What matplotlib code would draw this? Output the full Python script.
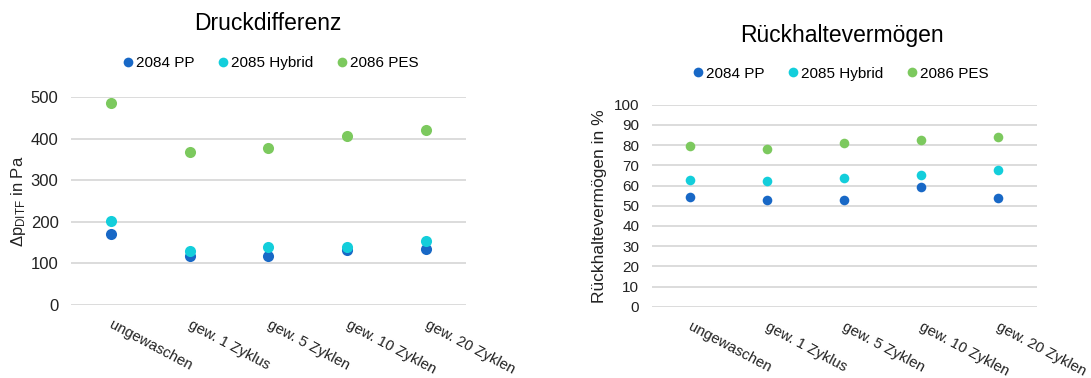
import matplotlib
matplotlib.use('Agg')
import matplotlib.pyplot as plt
from matplotlib.lines import Line2D
from matplotlib.transforms import ScaledTranslation

plt.rcParams['font.family'] = ['Liberation Sans', 'DejaVu Sans']
plt.rcParams['mathtext.fontset'] = 'custom'
plt.rcParams['mathtext.rm'] = 'Liberation Sans'
plt.rcParams['mathtext.it'] = 'Liberation Sans'

# Waschzustände
kategorien = ['ungewaschen', 'gew. 1 Zyklus', 'gew. 5 Zyklen', 'gew. 10 Zyklen', 'gew. 20 Zyklen']
serien = ['2084 PP', '2085 Hybrid', '2086 PES']
farben = ['#1868C6', '#13CEDB', '#7CC95E']

# Druckdifferenz in Pa
dp_pp = [172, 118, 118, 133, 134]
dp_hybrid = [202, 131, 139, 140, 155]
dp_pes = [486, 369, 377, 407, 422]

# Rückhaltevermögen in %
rh_pp = [54.2, 53.0, 52.7, 59.3, 53.8]
rh_hybrid = [62.7, 62.4, 63.9, 65.2, 67.8]
rh_pes = [79.5, 77.9, 81.0, 82.5, 84.0]

fig = plt.figure(figsize=(10.91, 3.78), dpi=100)
ax1 = fig.add_axes([0.0651, 0.1931, 0.362, 0.5495])
ax2 = fig.add_axes([0.5973, 0.1886, 0.3529, 0.5344])


def zeichne(ax, daten, ymax, schritt, groesse, tickfont):
    x = range(len(kategorien))
    for werte, farbe in zip(daten, farben):
        ax.scatter(x, werte, s=groesse, color=farbe, zorder=3, linewidths=0)
    ax.set_xlim(-0.5, len(kategorien) - 0.5)
    ax.set_ylim(0, ymax)
    ax.set_yticks(range(0, ymax + 1, schritt))
    ax.yaxis.grid(True, color='#D9D9D9', linewidth=1.3)
    ax.set_axisbelow(True)
    for s in ax.spines.values():
        s.set_visible(False)
    ax.tick_params(axis='both', length=0, labelsize=tickfont, colors='#222222')
    ax.tick_params(axis='y', pad=9)
    ax.tick_params(axis='x', pad=9)
    ax.set_xticks(list(x))
    ax.set_xticklabels(kategorien, rotation=-28, ha='left', va='top',
                       rotation_mode='anchor', fontsize=10.7)
    # Beschriftungen ein Stück nach rechts schieben
    versatz = ScaledTranslation(2 / 72, 0, fig.dpi_scale_trans)
    for lbl in ax.get_xticklabels():
        lbl.set_transform(lbl.get_transform() + versatz)


zeichne(ax1, [dp_pp, dp_hybrid, dp_pes], 500, 100, 64, 12)
zeichne(ax2, [rh_pp, rh_hybrid, rh_pes], 100, 10, 48, 11)

ax1.set_ylabel(r'$\Delta\mathrm{p}_{\mathrm{DITF}}$ in Pa', fontsize=12, labelpad=2, color='#222222')
ax2.set_ylabel('Rückhaltevermögen in %', fontsize=12.5, labelpad=5, color='#222222')

fig.text(0.2457, 0.937, 'Druckdifferenz', fontsize=16.5, ha='center', va='center')
fig.text(0.772, 0.905, 'Rückhaltevermögen', fontsize=16.5, ha='center', va='center')

griffe = [Line2D([], [], marker='o', linestyle='none', markersize=7,
                 markerfacecolor=f, markeredgewidth=0) for f in farben]
for ax, yl, xl in [(ax1, 0.833, 0.2485), (ax2, 0.805, 0.771)]:
    fig.legend(griffe, serien, loc='center', bbox_to_anchor=(xl, yl), ncol=3,
               frameon=False, fontsize=11, handlelength=0.6, handletextpad=0.2,
               columnspacing=1.6)

fig.savefig('out.png', dpi=100)
